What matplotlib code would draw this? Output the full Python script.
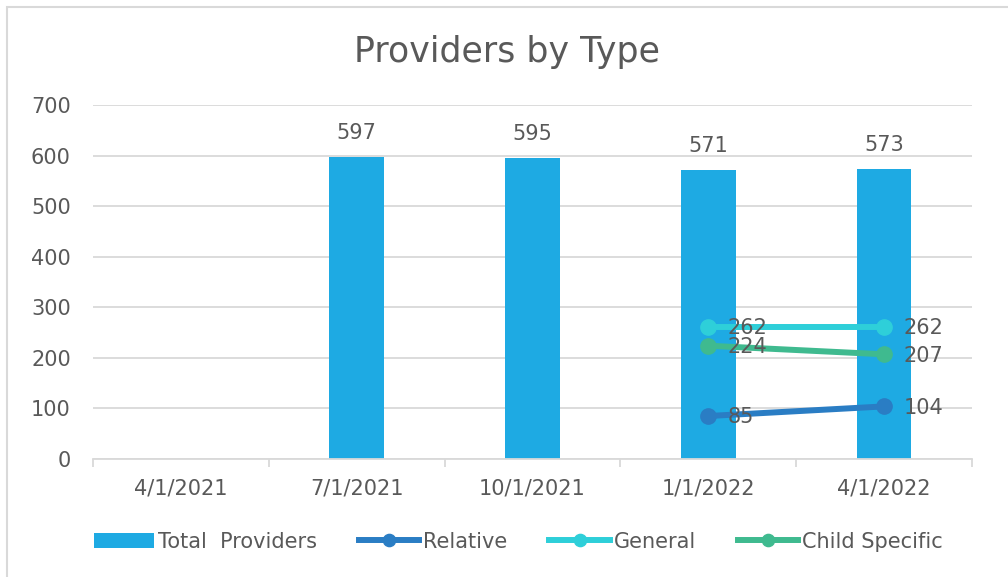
import numpy as np
import matplotlib.pyplot as plt
from matplotlib.patches import Rectangle

dates = ["4/1/2021", "7/1/2021", "10/1/2021", "1/1/2022", "4/1/2022"]
total = [np.nan, 597, 595, 571, 573]
relative = [np.nan, np.nan, np.nan, 85, 104]
general = [np.nan, np.nan, np.nan, 262, 262]
child = [np.nan, np.nan, np.nan, 224, 207]

txt = "#595959"
fs = 15
plt.rcParams['font.family'] = ['DejaVu Sans']

fig = plt.figure(figsize=(10.08, 5.77), dpi=100)
fig.patches.append(Rectangle((7/1008, -0.1), 1.2, 1 - 7/577 + 0.1, transform=fig.transFigure,
                             fill=False, edgecolor="#d9d9d9", lw=1.5))
ax = fig.add_axes([93/1008, 1 - 459/577, 879/1008, 354/577])

x = np.arange(len(dates))
ax.bar(x, total, width=0.31, color="#1eaae3", label="Total  Providers", zorder=2)
for xi, v in zip(x, total):
    if not np.isnan(v):
        ax.annotate(f"{v:.0f}", (xi, v), xytext=(0, 10), textcoords="offset points",
                    ha="center", va="bottom", fontsize=fs, color=txt)

series = [(relative, "#2a7dc4", "Relative"),
          (general, "#2ecfd9", "General"),
          (child, "#3fba8f", "Child Specific")]
for vals, col, name in series:
    ax.plot(x, vals, color=col, lw=4.3, marker="o", ms=11, label=name, zorder=3)
    for xi, v in zip(x, vals):
        if not np.isnan(v):
            ax.annotate(f"{v:.0f}", (xi, v), xytext=(14, -1), textcoords="offset points",
                        ha="left", va="center", fontsize=fs, color=txt, zorder=4)

ax.set_xlim(-0.5, 4.5)
ax.set_ylim(0, 700)
ax.set_yticks(range(0, 701, 100))
ax.grid(axis="y", color="#d9d9d9", lw=1.3, zorder=0)
ax.set_axisbelow(True)
for s in ["top", "right", "left"]:
    ax.spines[s].set_visible(False)
ax.spines["bottom"].set_color("#d9d9d9")
ax.spines["bottom"].set_linewidth(1.3)
ax.set_xticks(x)
ax.set_xticklabels(dates)
ax.set_xticks(np.arange(-0.5, 5, 1), minor=True)
ax.tick_params(axis="x", which="major", length=0, pad=14, labelsize=fs, labelcolor=txt)
ax.tick_params(axis="x", which="minor", length=6, color="#d9d9d9", width=1.3)
ax.tick_params(axis="y", length=0, pad=16, labelsize=fs, labelcolor=txt)

fig.text(507/1008, 1 - 52/577, "Providers by Type", fontsize=25, color=txt,
         ha="center", va="center")

h, l = ax.get_legend_handles_labels()
order = [l.index("Total  Providers"), l.index("Relative"), l.index("General"), l.index("Child Specific")]
ax.legend([h[i] for i in order], [l[i] for i in order],
          loc="upper center", bbox_to_anchor=(0.484, -0.152), ncol=4, frameon=False,
          fontsize=fs, labelcolor=txt, handlelength=2.9, handletextpad=0.2,
          columnspacing=2.0, markerscale=0.8)

plt.savefig("out.png", dpi=100)
